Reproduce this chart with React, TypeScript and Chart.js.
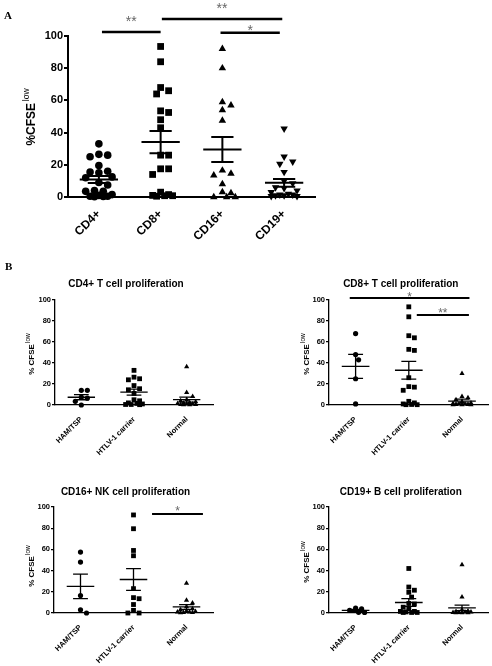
import React, { useEffect, useRef } from 'react';
import { Chart, registerables } from 'chart.js';

Chart.register(...registerables);

const SANS = '"Liberation Sans", Arial, Helvetica, sans-serif';
const SERIF = '"Liberation Serif", "Times New Roman", serif';

// ---------------- Panel A data ----------------
const catsA = ['CD4+', 'CD8+', 'CD16+', 'CD19+'];
const aCD4 = [33, 26, 25, 26.5, 19.5, 16, 15.5, 15, 12.5, 12, 9, 7.5, 4, 3.5, 3.5, 1.5, 1, 0.5, 0.5, 0.3, 0.2];
const aCD8 = [93.5, 84, 68, 66, 64, 53.5, 52.5, 48, 43, 26, 26, 17.5, 17.5, 14, 3, 1.5, 1, 0.8, 0.8, 0.5];
const aCD16 = [92, 80, 59, 57, 54, 47.5, 16.5, 14.5, 13.5, 8, 3, 2.5, 0, 0, 0];
const aCD19 = [42.5, 25, 22, 20.5, 15.5, 10, 8.5, 6, 5.5, 4, 3, 2, 1.5, 1.5, 1, 1, 0.5, 0.5];
const meanA = [10.9, 34.1, 29.5, 8.8];
const semA = [2.2, 6.9, 7.8, 2.4];
const sigA = [
  { from: 0.05, to: 1.0, y: 102.5, textY: 110.9, label: '**' },
  { from: 1.02, to: 2.97, y: 110.6, textY: 119.3, label: '**' },
  { from: 1.97, to: 2.93, y: 102, textY: 105.6, label: '*' },
];

// ---------------- Panel B data ----------------
const groupsB = ['HAM/TSP', 'HTLV-1 carrier', 'Normal'];

const cd4Ham = [14, 14, 7.5, 6.5, 3.5, 0];
const cd4Htlv = [33, 26.5, 25, 24, 18.5, 15.5, 14.5, 11, 5, 4, 2, 1.5, 1, 0.5, 0.5, 0.3];
const cd4Normal = [36.5, 12, 8, 5, 4, 3, 2.5, 2, 1.5, 1, 1, 0.5, 0.5, 0.3, 0.2];
const cd4Mean = [7.4, 12.3, 5.1];
const cd4Sem = [2.4, 2.8, 2.4];

const cd8Ham = [68, 48, 43, 25, 1];
const cd8Htlv = [93.5, 84, 66, 64, 53, 52, 26, 17.5, 17, 14, 3.5, 2, 1, 0.5, 0.3, 0.3];
const cd8Normal = [30, 8, 7, 5, 3, 2, 1.5, 1, 1, 0.5, 0.5, 0.3, 0.2, 0.2];
const cd8Mean = [36.8, 33.1, 3.7];
const cd8Sem = [11.5, 8.4, 1.9];
const cd8Sig = [
  { from: -0.11, to: 2.14, y: 101.9, textY: 105.7, label: '*' },
  { from: 1.15, to: 2.13, y: 85.7, textY: 90.5, label: '**' },
];

const cd16Ham = [57.5, 48, 16.5, 3, 0];
const cd16Htlv = [92.5, 79.5, 59, 54, 23, 14.5, 13.5, 8, 2.5, 0, 0];
const cd16Normal = [28, 12, 9.5, 6, 4, 3, 2, 1.5, 1, 1, 0.5, 0.5, 0.3];
const cd16Mean = [25.1, 31.6, 5.7];
const cd16Sem = [11.5, 10.2, 2.2];
const cd16Sig = [{ from: 1.35, to: 2.31, y: 93.4, textY: 99, label: '*' }];

const cd19Ham = [4.7, 4, 2.5, 0.6, 0.5];
const cd19Htlv = [42, 24.5, 21.5, 19.5, 15, 9, 8.5, 5.5, 4, 1.5, 1.5, 1, 0.5, 0.5, 0.5];
const cd19Normal = [45.5, 15, 3, 2, 1.5, 1, 1, 0.5, 0.5, 0.3, 0.3, 0.2];
const cd19Mean = [2.5, 9.9, 4.9];
const cd19Sem = [1.0, 3.6, 2.6];

const yTicks = [0, 20, 40, 60, 80, 100];

// ---------------- helpers ----------------
// Beeswarm-style horizontal spread (in px) computed from the values, limited to maxHalf.
function swarm(vals: number[], d: number, pxPerUnit: number, maxHalf: number): number[] {
  const order = vals.map((_, i) => i).sort((a, b) => vals[b] - vals[a]);
  const placed: [number, number][] = [];
  const out = new Array(vals.length).fill(0);
  const step = d / 2;
  const cands: number[] = [];
  for (let k = 0; k < 200; k++) {
    const m = Math.ceil(k / 2) * (k % 2 === 1 ? 1 : -1);
    if (Math.abs(m * step) > maxHalf + 0.01) break;
    cands.push(m * step);
  }
  for (const i of order) {
    const py = vals[i] * pxPerUnit;
    let chosen: number | null = null;
    let best = -1;
    let bestX = 0;
    for (const px of cands) {
      const md = placed.reduce((acc, [qx, qy]) => Math.min(acc, Math.hypot(qx - px, qy - py)), Infinity);
      if (md >= d * 0.92) { chosen = px; break; }
      if (md > best + 0.01) { best = md; bestX = px; }
    }
    const x = chosen === null ? bestX : chosen;
    out[i] = x;
    placed.push([x, py]);
  }
  return out;
}

const circleA = { style: 'circle', rot: 0, r: 3.8, diam: 7.6 };
const squareA = { style: 'rect', rot: 0, r: 4.8, diam: 6.8 };
const triA = { style: 'triangle', rot: 0, r: 4.3, diam: 7.4 };
const invTriA = { style: 'triangle', rot: 180, r: 4.3, diam: 7.4 };
const circleB = { style: 'circle', rot: 0, r: 2.6, diam: 5.2 };
const squareB = { style: 'rect', rot: 0, r: 3.4, diam: 4.8 };
const triB = { style: 'triangle', rot: 0, r: 3.0, diam: 5.2 };

const styleA = {
  tickFont: 11, catFont: 12, yMain: 12, ySup: 8.5, tickLen: 4, tickPad: 1, catPad: 2,
  axisW: 2, meanHalf: 0.31, capHalf: 0.18, meanLw: 2, sigLw: 2.4, starSize: 14, gap: 1.2, maxHalf: 14,
};
const styleB = {
  tickFont: 7.5, catFont: 7.5, yMain: 8, ySup: 6.5, tickLen: 3, tickPad: 1, catPad: 2,
  axisW: 1.3, meanHalf: 0.26, capHalf: 0.14, meanLw: 1.3, sigLw: 2, starSize: 12, gap: 0.8, maxHalf: 10.5,
};

const panels: any[] = [
  {
    key: 'A', left: 0, top: 0, width: 330, height: 250,
    area: { l: 68, t: 36, r: 315, b: 197 },
    cats: catsA, groups: [aCD4, aCD8, aCD16, aCD19],
    styles: [circleA, squareA, triA, invTriA],
    means: meanA, sems: semA, sig: sigA,
    yTitleX: 32, yTitleY: 117, ...styleA,
  },
  {
    key: 'B1', left: 0, top: 268, width: 246, height: 200,
    area: { l: 55, t: 300, r: 213, b: 405 },
    cats: groupsB, groups: [cd4Ham, cd4Htlv, cd4Normal],
    styles: [circleB, squareB, triB],
    means: cd4Mean, sems: cd4Sem, sig: [],
    title: 'CD4+ T cell proliferation', titleY: 284.5,
    yTitleX: 32, yTitleY: 354, ...styleB,
  },
  {
    key: 'B2', left: 246, top: 268, width: 246, height: 200,
    area: { l: 329, t: 300, r: 489, b: 405 },
    cats: groupsB, groups: [cd8Ham, cd8Htlv, cd8Normal],
    styles: [circleB, squareB, triB],
    means: cd8Mean, sems: cd8Sem, sig: cd8Sig,
    title: 'CD8+ T cell proliferation', titleY: 284.5,
    yTitleX: 307, yTitleY: 354, ...styleB,
  },
  {
    key: 'B3', left: 0, top: 476, width: 246, height: 190,
    area: { l: 54, t: 507, r: 213, b: 613 },
    cats: groupsB, groups: [cd16Ham, cd16Htlv, cd16Normal],
    styles: [circleB, squareB, triB],
    means: cd16Mean, sems: cd16Sem, sig: cd16Sig,
    title: 'CD16+ NK cell proliferation', titleY: 492,
    yTitleX: 32, yTitleY: 566, ...styleB,
  },
  {
    key: 'B4', left: 246, top: 476, width: 246, height: 190,
    area: { l: 329, t: 507, r: 489, b: 613 },
    cats: groupsB, groups: [cd19Ham, cd19Htlv, cd19Normal],
    styles: [circleB, squareB, triB],
    means: cd19Mean, sems: cd19Sem, sig: [],
    title: 'CD19+ B cell proliferation', titleY: 492,
    yTitleX: 307, yTitleY: 562, ...styleB,
  },
];

function makePlugin(s: any) {
  return {
    id: 'extras_' + s.key,
    afterDatasetsDraw(chart: any) {
      const { ctx, scales } = chart;
      const x = scales.x, y = scales.y;
      const unit = x.getPixelForValue(1) - x.getPixelForValue(0);
      ctx.save();
      ctx.strokeStyle = '#000';
      ctx.lineWidth = s.meanLw;
      ctx.lineCap = 'butt';
      s.means.forEach((m: number, i: number) => {
        const sd = s.sems[i];
        const cx = x.getPixelForValue(i);
        const hw = s.meanHalf * unit;
        const cw = s.capHalf * unit;
        const ym = y.getPixelForValue(m);
        const yu = y.getPixelForValue(m + sd);
        const yl = y.getPixelForValue(Math.max(m - sd, 0));
        ctx.beginPath();
        ctx.moveTo(cx - hw, ym); ctx.lineTo(cx + hw, ym);
        ctx.moveTo(cx, yu); ctx.lineTo(cx, yl);
        ctx.moveTo(cx - cw, yu); ctx.lineTo(cx + cw, yu);
        ctx.moveTo(cx - cw, yl); ctx.lineTo(cx + cw, yl);
        ctx.stroke();
      });
      ctx.restore();
    },
    afterDraw(chart: any) {
      const { ctx, scales } = chart;
      const x = scales.x, y = scales.y;
      ctx.save();
      s.sig.forEach((g: any) => {
        const x1 = x.getPixelForValue(g.from);
        const x2 = x.getPixelForValue(g.to);
        const yy = y.getPixelForValue(g.y);
        ctx.strokeStyle = '#000';
        ctx.lineWidth = s.sigLw;
        ctx.beginPath();
        ctx.moveTo(x1, yy); ctx.lineTo(x2, yy);
        ctx.stroke();
        ctx.fillStyle = '#666';
        ctx.font = `${s.starSize}px ${SANS}`;
        ctx.textAlign = 'center';
        ctx.textBaseline = 'alphabetic';
        ctx.fillText(g.label, (x1 + x2) / 2, y.getPixelForValue(g.textY) + s.starSize * 0.55);
      });
      ctx.fillStyle = '#000';
      ctx.translate(s.yTitleX - s.left, s.yTitleY - s.top);
      ctx.rotate(-Math.PI / 2);
      const main = s.key === 'A' ? '%CFSE' : '% CFSE';
      const sup = 'low';
      ctx.font = `bold ${s.yMain}px ${SANS}`;
      const w1 = ctx.measureText(main).width;
      ctx.font = `${s.ySup}px ${SANS}`;
      const w2 = ctx.measureText(sup).width;
      const gap = s.yMain * 0.15;
      const start = -(w1 + w2 + gap) / 2;
      ctx.textAlign = 'left';
      ctx.textBaseline = 'middle';
      ctx.font = `bold ${s.yMain}px ${SANS}`;
      ctx.fillText(main, start, 0);
      ctx.font = `${s.ySup}px ${SANS}`;
      ctx.fillText(sup, start + w1 + gap, -s.yMain * 0.42);
      ctx.restore();
      if (s.title) {
        ctx.save();
        ctx.fillStyle = '#000';
        ctx.font = `bold 10px ${SANS}`;
        ctx.textAlign = 'center';
        ctx.textBaseline = 'middle';
        const cx = (chart.chartArea.left + chart.chartArea.right) / 2 - 8;
        ctx.fillText(s.title, cx, s.titleY - s.top);
        ctx.restore();
      }
    },
  };
}

function DotPanel({ s }: { s: any }) {
  const ref = useRef<HTMLCanvasElement | null>(null);
  useEffect(() => {
    const canvas = ref.current;
    if (!canvas) return;
    const aL = s.area.l - s.left;
    const aT = s.area.t - s.top;
    const aR = s.area.r - s.left;
    const aB = s.area.b - s.top;
    const n = s.cats.length;
    const unitX = (aR - aL) / n;
    const unitY = (aB - aT) / 100;
    const datasets = s.groups.map((vals: number[], i: number) => {
      const st = s.styles[i];
      const offs = swarm(vals, st.diam + s.gap, unitY, s.maxHalf);
      return {
        type: 'scatter',
        label: s.cats[i],
        data: vals.map((v, j) => ({ x: i + offs[j] / unitX, y: v })),
        pointStyle: st.style,
        rotation: st.rot,
        pointRotation: st.rot,
        pointRadius: st.r,
        pointHoverRadius: st.r,
        backgroundColor: '#000',
        borderColor: '#000',
        borderWidth: 0,
        showLine: false,
        clip: false,
      };
    });
    const chart = new Chart(canvas, {
      type: 'scatter',
      data: { datasets },
      plugins: [makePlugin(s)],
      options: {
        responsive: false,
        animation: false,
        devicePixelRatio: 1,
        events: [],
        layout: { padding: { left: 0, top: aT, right: s.width - aR, bottom: 0 } },
        plugins: {
          legend: { display: false },
          tooltip: { enabled: false },
          title: { display: false },
        },
        scales: {
          x: {
            type: 'linear',
            min: -0.5,
            max: n - 0.5,
            afterBuildTicks: (sc: any) => { sc.ticks = s.cats.map((_: string, i: number) => ({ value: i })); },
            afterFit: (sc: any) => { sc.height = s.height - aB; },
            grid: { display: false },
            border: { display: true, color: '#000', width: s.axisW },
            ticks: {
              autoSkip: false,
              minRotation: 45,
              maxRotation: 45,
              padding: s.catPad,
              color: '#000',
              font: { family: SANS, size: s.catFont, weight: 'bold' },
              callback: (v: any) => s.cats[Math.round(v)] ?? '',
            },
          },
          y: {
            type: 'linear',
            min: 0,
            max: 100,
            afterBuildTicks: (sc: any) => { sc.ticks = yTicks.map((v) => ({ value: v })); },
            afterFit: (sc: any) => { sc.width = aL; },
            grid: {
              display: true,
              drawOnChartArea: false,
              drawTicks: true,
              tickLength: s.tickLen,
              color: '#000',
              lineWidth: s.axisW,
            },
            border: { display: true, color: '#000', width: s.axisW },
            ticks: {
              padding: s.tickPad,
              color: '#000',
              font: { family: SANS, size: s.tickFont, weight: 'bold' },
            },
          },
        },
      } as any,
    } as any);
    return () => chart.destroy();
  }, [s]);
  return (
    <canvas
      ref={ref}
      width={s.width}
      height={s.height}
      style={{ position: 'absolute', left: s.left, top: s.top, width: s.width, height: s.height }}
    />
  );
}

export default function App() {
  const letter = (txt: string, left: number, top: number) => (
    <div
      style={{
        position: 'absolute', left, top, fontFamily: SERIF, fontWeight: 'bold',
        fontSize: 11, lineHeight: '11px', color: '#000',
      }}
    >
      {txt}
    </div>
  );
  return (
    <div style={{ position: 'absolute', left: 0, top: 0, width: 492, height: 666, background: '#fff', overflow: 'hidden' }}>
      {panels.map((p) => <DotPanel key={p.key} s={p} />)}
      {letter('A', 4, 10)}
      {letter('B', 5, 261)}
    </div>
  );
}
